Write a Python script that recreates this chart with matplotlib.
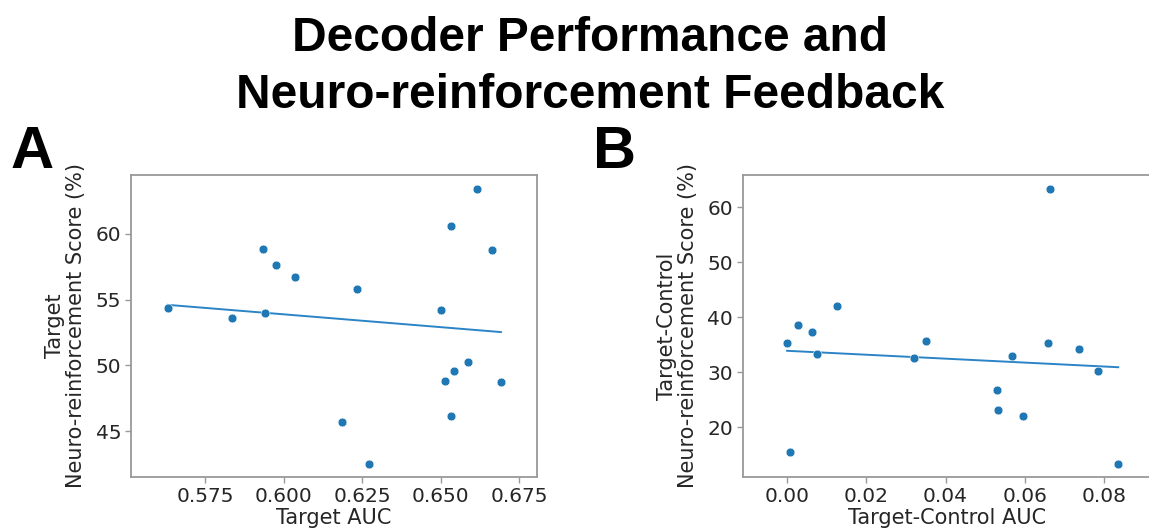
import numpy as np
import matplotlib
matplotlib.use("Agg")
import matplotlib.pyplot as plt

# Panel A data
a_auc = [0.5630, 0.5836, 0.5934, 0.5941, 0.5975, 0.6036, 0.6233, 0.6185, 0.6272,
         0.6502, 0.6534, 0.6616, 0.6664, 0.6588, 0.6543, 0.6513, 0.6534, 0.6692]
a_score = [54.37, 53.63, 58.83, 54.01, 57.64, 56.73, 55.81, 45.71, 42.51,
           54.24, 60.58, 63.40, 58.76, 50.28, 49.59, 48.78, 46.12, 48.71]

# Panel B data
b_auc = [0.0000, 0.0008, 0.00275, 0.00624, 0.00752, 0.01248, 0.03193, 0.03505, 0.05303,
         0.05321, 0.0567, 0.05954, 0.06578, 0.06633, 0.07376, 0.07853, 0.08358]
b_score = [35.33, 15.52, 38.55, 37.27, 33.39, 42.12, 32.61, 35.76, 26.79,
           23.09, 32.91, 22.12, 35.27, 63.27, 34.30, 30.24, 13.39]

a_xticks = [0.575, 0.600, 0.625, 0.650, 0.675]
a_yticks = [45, 50, 55, 60]
b_xticks = [0.00, 0.02, 0.04, 0.06, 0.08]
b_yticks = [20, 30, 40, 50, 60]

W, H = 1149, 531
fig = plt.figure(figsize=(W / 100, H / 100), dpi=100)

txt_col = "#262626"
spine_col = "#999999"
dot_col = "#1f77b4"
line_col = "#2b84c6"

def fx(px):
    return px / W

def fy(py):
    return 1 - py / H

axA = fig.add_axes([fx(131), fy(477), fx(537 - 131), (477 - 175) / H])
axB = fig.add_axes([fx(742.7), fy(477), fx(1152 - 742.7), (477 - 175) / H])

def style(ax):
    for s in ax.spines.values():
        s.set_color(spine_col)
        s.set_linewidth(1.3)
    ax.tick_params(axis="both", colors=spine_col, labelcolor=txt_col,
                   labelsize=14.5, length=4, width=1.0, pad=3)

def draw(ax, x, y, xt, yt, xlim, ylim, xlabel, ylabel, xfmt):
    x = np.asarray(x)
    y = np.asarray(y)
    ax.scatter(x, y, s=40, color=dot_col, edgecolors="white", linewidths=0.4, zorder=3)
    k, b = np.polyfit(x, y, 1)
    xs = np.array([x.min(), x.max()])
    ax.plot(xs, k * xs + b, color=line_col, lw=1.4, zorder=2)
    ax.set_xticks(xt)
    ax.set_yticks(yt)
    ax.set_xticklabels([xfmt.format(v) for v in xt])
    ax.set_yticklabels([str(v) for v in yt])
    ax.set_xlim(*xlim)
    ax.set_ylim(*ylim)
    ax.set_xlabel(xlabel, fontsize=15, color=txt_col, labelpad=2)
    ax.set_ylabel(ylabel, fontsize=15, color=txt_col, labelpad=7, linespacing=1.05)
    style(ax)

draw(axA, a_auc, a_score, a_xticks, a_yticks, (0.5513, 0.6807), (41.50, 64.49),
     "Target AUC", "Target\nNeuro-reinforcement Score (%)", "{:.3f}")
draw(axB, b_auc, b_score, b_xticks, b_yticks, (-0.0112, 0.0921), (10.96, 65.88),
     "Target-Control AUC", "Target-Control\nNeuro-reinforcement Score (%)", "{:.2f}")

title_font = dict(family=["Liberation Sans", "DejaVu Sans"], weight="bold", color="black")
fig.text(fx(590), fy(51), "Decoder Performance and", ha="center", va="baseline",
         fontsize=34.5, **title_font)
fig.text(fx(590), fy(108), "Neuro-reinforcement Feedback", ha="center", va="baseline",
         fontsize=34.5, **title_font)

fig.text(fx(11), fy(168), "A", ha="left", va="baseline", fontsize=43, **title_font)
fig.text(fx(593), fy(168), "B", ha="left", va="baseline", fontsize=43, **title_font)

fig.savefig("out.png", dpi=100, facecolor="white")
